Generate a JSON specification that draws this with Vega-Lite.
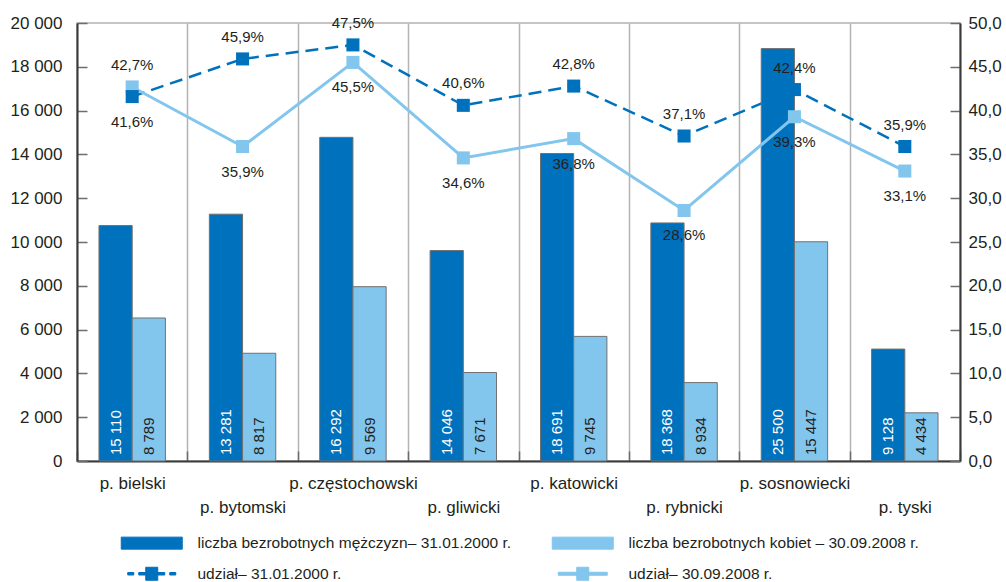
{
  "$schema": "https://vega.github.io/schema/vega-lite/v6.json",
  "width": 883,
  "height": 438,
  "autosize": {"type": "none"},
  "padding": {"left": 77, "top": 23, "right": 46, "bottom": 121},
  "background": "white",
  "config": {
    "locale": {"number": {"decimal": ",", "thousands": " ", "grouping": [3], "currency": ["", "%"]}},
    "font": "Liberation Sans",
    "view": {"stroke": "#b3b3b3", "strokeWidth": 1.5},
    "axis": {"labelFont": "Liberation Sans", "labelFontSize": 17, "labelColor": "#231f20", "domainColor": "#3a3a3a", "domainWidth": 2, "tickColor": "#6d6d6d", "tickWidth": 1.5, "title": null},
    "legend": {"labelFont": "Liberation Sans"}
  },
  "datasets": {
    "bars": [
      {"district": "p. bielski", "series": "m2000", "height": 10750, "count": 15110},
      {"district": "p. bielski", "series": "k2008", "height": 6530, "count": 8789},
      {"district": "p. bytomski", "series": "m2000", "height": 11270, "count": 13281},
      {"district": "p. bytomski", "series": "k2008", "height": 4920, "count": 8817},
      {"district": "p. częstochowski", "series": "m2000", "height": 14780, "count": 16292},
      {"district": "p. częstochowski", "series": "k2008", "height": 7960, "count": 9569},
      {"district": "p. gliwicki", "series": "m2000", "height": 9610, "count": 14046},
      {"district": "p. gliwicki", "series": "k2008", "height": 4040, "count": 7671},
      {"district": "p. katowicki", "series": "m2000", "height": 14040, "count": 18691},
      {"district": "p. katowicki", "series": "k2008", "height": 5690, "count": 9745},
      {"district": "p. rybnicki", "series": "m2000", "height": 10870, "count": 18368},
      {"district": "p. rybnicki", "series": "k2008", "height": 3580, "count": 8934},
      {"district": "p. sosnowiecki", "series": "m2000", "height": 18830, "count": 25500},
      {"district": "p. sosnowiecki", "series": "k2008", "height": 10010, "count": 15447},
      {"district": "p. tyski", "series": "m2000", "height": 5110, "count": 9128},
      {"district": "p. tyski", "series": "k2008", "height": 2200, "count": 4434}
    ],
    "shares": [
      {"district": "p. bielski", "series": "u2000", "pct": 41.6},
      {"district": "p. bytomski", "series": "u2000", "pct": 45.9},
      {"district": "p. częstochowski", "series": "u2000", "pct": 47.5},
      {"district": "p. gliwicki", "series": "u2000", "pct": 40.6},
      {"district": "p. katowicki", "series": "u2000", "pct": 42.8},
      {"district": "p. rybnicki", "series": "u2000", "pct": 37.1},
      {"district": "p. sosnowiecki", "series": "u2000", "pct": 42.4},
      {"district": "p. tyski", "series": "u2000", "pct": 35.9},
      {"district": "p. bielski", "series": "u2008", "pct": 42.7},
      {"district": "p. bytomski", "series": "u2008", "pct": 35.9},
      {"district": "p. częstochowski", "series": "u2008", "pct": 45.5},
      {"district": "p. gliwicki", "series": "u2008", "pct": 34.6},
      {"district": "p. katowicki", "series": "u2008", "pct": 36.8},
      {"district": "p. rybnicki", "series": "u2008", "pct": 28.6},
      {"district": "p. sosnowiecki", "series": "u2008", "pct": 39.3},
      {"district": "p. tyski", "series": "u2008", "pct": 33.1}
    ]
  },
  "layer": [
    {
      "data": {"name": "shares"},
      "transform": [{"filter": "datum.series == 'u2000'"}],
      "mark": {"type": "line", "strokeWidth": 2.5, "strokeDash": [13, 7]},
      "encoding": {
        "x": {"field": "district", "type": "nominal", "sort": null,
          "scale": {"domain": ["p. bielski", "p. bytomski", "p. częstochowski", "p. gliwicki", "p. katowicki", "p. rybnicki", "p. sosnowiecki", "p. tyski"], "paddingInner": 0, "paddingOuter": 0},
          "axis": {"tickBand": "extent", "grid": true, "gridColor": "#b3b3b3", "gridWidth": 1.5, "tickSize": -10, "labelPadding": 24, "labelBaseline": "top", "labelAngle": 0, "labelLineHeight": 24, "labelLimit": 300,
            "labelExpr": "indexof(['p. bytomski', 'p. gliwicki', 'p. rybnicki', 'p. tyski'], datum.value) >= 0 ? ['', datum.value] : datum.value"}},
        "y": {"field": "pct", "type": "quantitative", "scale": {"domain": [0, 50], "nice": false}, "axis": null},
        "color": {"field": "series", "type": "nominal",
          "scale": {"domain": ["m2000", "u2000", "k2008", "u2008"], "range": ["#0071bc", "#0071bc", "#82c6ee", "#82c6ee"]},
          "legend": {
            "orient": "none", "legendX": 67, "legendY": 512, "columns": 2, "title": null, "padding": 0,
            "symbolSize": 100, "labelOffset": 38, "columnPadding": 38, "rowPadding": 13,
            "labelFontSize": 15.5, "labelColor": "#231f20", "labelLimit": 400, "symbolStrokeWidth": 1,
            "labelExpr": "datum.value == 'm2000' ? 'liczba bezrobotnych mężczyzn– 31.01.2000 r.' : datum.value == 'k2008' ? 'liczba bezrobotnych kobiet – 30.09.2008 r.' : datum.value == 'u2000' ? 'udział– 31.01.2000 r.' : 'udział– 30.09.2008 r.'",
            "encode": {"symbols": {"update": {
              "shape": {"signal": "datum.value == 'm2000' || datum.value == 'k2008' ? 'M-6.1,-1.2H6.1V1.2H-6.1Z' : datum.value == 'u2000' ? 'M-4.8,-0.25H-3.6V0.25H-4.8Z M-2.6,-0.25H-1.2V0.25H-2.6Z M-1.2,-1.3H1.2V1.3H-1.2Z M1.2,-0.25H2.6V0.25H1.2Z M3.6,-0.25H4.8V0.25H3.6Z' : 'M-4.9,-0.3H4.9V0.3H-4.9Z M-1.2,-1.3H1.2V1.3H-1.2Z'"},
              "fill": {"signal": "scale('color', datum.value)"},
              "stroke": {"signal": "datum.value == 'm2000' || datum.value == 'k2008' ? '#707070' : 'transparent'"},
              "strokeWidth": {"value": 1},
              "strokeDash": {"value": []},
              "opacity": {"value": 1},
              "fillOpacity": {"value": 1}
            }}}
          }}
      }
    },
    {
      "data": {"name": "bars"},
      "mark": {"type": "bar", "stroke": "#707070", "strokeWidth": 1},
      "encoding": {
        "x": {"field": "district", "type": "nominal", "sort": null},
        "xOffset": {"field": "series", "type": "nominal", "sort": null, "scale": {"domain": ["m2000", "k2008"], "paddingInner": 0, "paddingOuter": 0.662}},
        "y": {"field": "height", "type": "quantitative", "scale": {"domain": [0, 20000], "nice": false},
          "axis": {"orient": "left", "values": [0, 2000, 4000, 6000, 8000, 10000, 12000, 14000, 16000, 18000, 20000], "format": ",d", "tickSize": -10, "labelPadding": 25, "grid": false}},
        "color": {"field": "series", "type": "nominal"}
      }
    },
    {
      "data": {"name": "bars"},
      "mark": {"type": "text", "angle": 270, "align": "left", "baseline": "middle", "dx": 6, "fontSize": 15, "font": "Liberation Sans"},
      "encoding": {
        "x": {"field": "district", "type": "nominal", "sort": null},
        "xOffset": {"field": "series", "type": "nominal", "sort": null},
        "y": {"datum": 0, "type": "quantitative", "scale": {"domain": [0, 20000], "nice": false}, "axis": null},
        "text": {"field": "count", "type": "quantitative", "format": ",d"},
        "color": {"condition": {"test": "datum.series == 'm2000'", "value": "#ffffff"}, "value": "#231f20"}
      }
    },
    {
      "data": {"name": "shares"},
      "transform": [{"filter": "datum.series == 'u2008'"}],
      "mark": {"type": "line", "strokeWidth": 3},
      "encoding": {
        "x": {"field": "district", "type": "nominal", "sort": null},
        "y": {"field": "pct", "type": "quantitative", "scale": {"domain": [0, 50], "nice": false},
          "axis": {"orient": "right", "values": [0, 5, 10, 15, 20, 25, 30, 35, 40, 45, 50], "format": ".1f", "tickSize": -10, "labelPadding": 18, "grid": false}},
        "color": {"field": "series", "type": "nominal"}
      }
    },
    {
      "data": {"name": "shares"},
      "transform": [{"filter": "datum.series == 'u2008'"}],
      "mark": {"type": "point", "shape": "square", "filled": true, "size": 170, "opacity": 1},
      "encoding": {
        "x": {"field": "district", "type": "nominal", "sort": null},
        "y": {"field": "pct", "type": "quantitative", "scale": {"domain": [0, 50], "nice": false}, "axis": null},
        "color": {"field": "series", "type": "nominal"}
      }
    },
    {
      "data": {"name": "shares"},
      "transform": [{"filter": "datum.series == 'u2000'"}],
      "mark": {"type": "point", "shape": "square", "filled": true, "size": 170, "opacity": 1},
      "encoding": {
        "x": {"field": "district", "type": "nominal", "sort": null},
        "y": {"field": "pct", "type": "quantitative", "scale": {"domain": [0, 50], "nice": false}, "axis": null},
        "color": {"field": "series", "type": "nominal"}
      }
    },
    {
      "data": {"name": "shares"},
      "transform": [
        {"joinaggregate": [{"op": "max", "field": "pct", "as": "maxpct"}], "groupby": ["district"]},
        {"filter": "datum.pct == datum.maxpct"}
      ],
      "mark": {"type": "text", "dy": -22, "fontSize": 15, "font": "Liberation Sans", "color": "#231f20", "baseline": "middle"},
      "encoding": {
        "x": {"field": "district", "type": "nominal", "sort": null},
        "y": {"field": "pct", "type": "quantitative", "scale": {"domain": [0, 50], "nice": false}, "axis": null},
        "text": {"field": "pct", "type": "quantitative", "format": "$.1f"}
      }
    },
    {
      "data": {"name": "shares"},
      "transform": [
        {"joinaggregate": [{"op": "max", "field": "pct", "as": "maxpct"}], "groupby": ["district"]},
        {"filter": "datum.pct < datum.maxpct"}
      ],
      "mark": {"type": "text", "dy": 25, "fontSize": 15, "font": "Liberation Sans", "color": "#231f20", "baseline": "middle"},
      "encoding": {
        "x": {"field": "district", "type": "nominal", "sort": null},
        "y": {"field": "pct", "type": "quantitative", "scale": {"domain": [0, 50], "nice": false}, "axis": null},
        "text": {"field": "pct", "type": "quantitative", "format": "$.1f"}
      }
    }
  ],
  "resolve": {"scale": {"y": "independent"}}
}
